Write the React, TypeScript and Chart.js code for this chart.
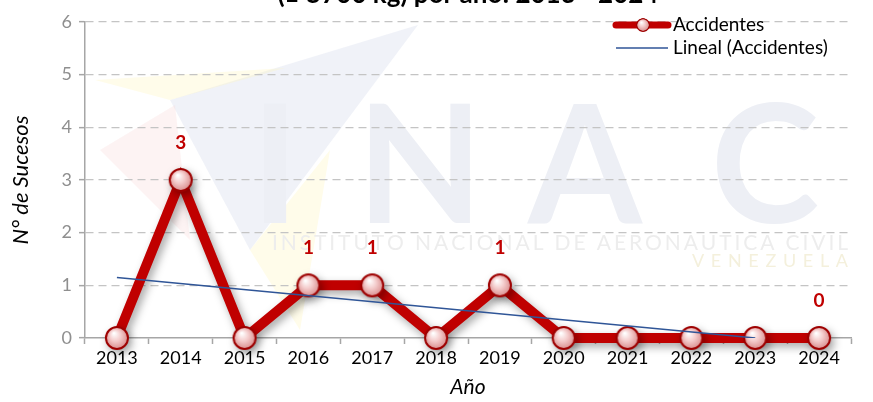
import React, { useEffect, useRef } from 'react';
import { Chart, registerables } from 'chart.js';

Chart.register(...registerables);

// ---- data ----
const years = ['2013', '2014', '2015', '2016', '2017', '2018', '2019', '2020', '2021', '2022', '2023', '2024'];
const accidents = [0, 3, 0, 1, 1, 0, 1, 0, 0, 0, 0, 0];
// linear trend: starts ~1.15 at 2013, reaches 0 near 2023
const trendLine: (number | null)[] = [1.15, null, null, null, null, null, null, null, null, null, 0, null];
const pointLabels = ['', '3', '', '1', '1', '', '1', '', '', '', '', '0'];
const titleText = '(≤ 5700 kg) por año: 2013 - 2024';
const seriesName = 'Accidentes';
const trendName = 'Lineal (Accidentes)';
const yTitle = 'N° de Sucesos';
const xTitle = 'Año';
const yMin = 0;
const yMax = 6;
const yStep = 1;

const FONT = 'Lato, "Open Sans", sans-serif';
const RED = '#c00000';
const BLUE = '#2f5597';
const GRAY = '#a6a6a6';

function makeMarker(r: number): HTMLCanvasElement {
  const pad = 2;
  const size = Math.ceil((r + pad) * 2);
  const c = document.createElement('canvas');
  c.width = size;
  c.height = size;
  const g = c.getContext('2d')!;
  const cx = size / 2;
  const cy = size / 2;
  const grad = g.createRadialGradient(cx - r * 0.25, cy - r * 0.4, r * 0.05, cx, cy, r);
  grad.addColorStop(0, '#ffffff');
  grad.addColorStop(0.45, '#f4cccc');
  grad.addColorStop(0.85, '#de9a9a');
  grad.addColorStop(1, '#c66c6c');
  g.beginPath();
  g.arc(cx, cy, r - 1, 0, Math.PI * 2);
  g.fillStyle = grad;
  g.fill();
  g.lineWidth = 2;
  g.strokeStyle = '#9e0000';
  g.stroke();
  return c;
}

function spacedText(ctx: CanvasRenderingContext2D, text: string, x0: number, x1: number, y: number) {
  const chars = Array.from(text);
  const widths = chars.map((ch) => ctx.measureText(ch).width);
  const total = widths.reduce((a, b) => a + b, 0);
  const gap = chars.length > 1 ? (x1 - x0 - total) / (chars.length - 1) : 0;
  let x = x0;
  ctx.textAlign = 'left';
  chars.forEach((ch, i) => {
    ctx.fillText(ch, x, y);
    x += widths[i] + gap;
  });
}

const watermarkPlugin = {
  id: 'watermark',
  beforeDraw(chart: any) {
    const ctx: CanvasRenderingContext2D = chart.ctx;
    ctx.save();
    // faint logo wing
    ctx.fillStyle = 'rgba(212,218,236,0.35)';
    ctx.beginPath();
    ctx.moveTo(170, 100);
    ctx.lineTo(418, 25);
    ctx.lineTo(250, 250);
    ctx.closePath();
    ctx.fill();
    ctx.fillStyle = 'rgba(255,245,185,0.3)';
    ctx.beginPath();
    ctx.moveTo(95, 80);
    ctx.lineTo(285, 68);
    ctx.lineTo(170, 100);
    ctx.closePath();
    ctx.fill();
    ctx.beginPath();
    ctx.moveTo(250, 250);
    ctx.lineTo(330, 150);
    ctx.lineTo(300, 330);
    ctx.closePath();
    ctx.fill();
    ctx.fillStyle = 'rgba(250,215,215,0.3)';
    ctx.beginPath();
    ctx.moveTo(100, 150);
    ctx.lineTo(175, 105);
    ctx.lineTo(190, 240);
    ctx.closePath();
    ctx.fill();
    // INAC letters
    ctx.fillStyle = '#edeff5';
    ctx.font = `bold 164px ${FONT}`;
    ctx.textAlign = 'center';
    ctx.textBaseline = 'alphabetic';
    const letters: [string, number][] = [['I', 275], ['N', 420], ['A', 585], ['C', 765]];
    letters.forEach(([t, x]) => ctx.fillText(t, x, 223));
    ctx.fillStyle = '#ededed';
    ctx.font = `21px ${FONT}`;
    spacedText(ctx, 'INSTITUTO NACIONAL DE AERONAUTICA CIVIL', 272, 848, 250);
    ctx.font = `18px ${FONT}`;
    ctx.fillStyle = '#f4f0dc';
    spacedText(ctx, 'VENEZUELA', 692, 848, 267);
    ctx.restore();
  },
};

const shadowPlugin = {
  id: 'lineShadow',
  beforeDatasetDraw(chart: any, args: any) {
    if (args.index !== 0) return;
    const ctx = chart.ctx;
    ctx.save();
    ctx.shadowColor = 'rgba(0,0,0,0.35)';
    ctx.shadowBlur = 9;
    ctx.shadowOffsetX = 3;
    ctx.shadowOffsetY = 4;
  },
  afterDatasetDraw(chart: any, args: any) {
    if (args.index !== 0) return;
    chart.ctx.restore();
  },
};

const labelPlugin = {
  id: 'pointLabels',
  afterDatasetsDraw(chart: any) {
    const ctx: CanvasRenderingContext2D = chart.ctx;
    const meta = chart.getDatasetMeta(0);
    ctx.save();
    ctx.fillStyle = RED;
    ctx.font = `bold 19px ${FONT}`;
    ctx.textAlign = 'center';
    ctx.textBaseline = 'middle';
    meta.data.forEach((pt: any, i: number) => {
      const lbl = pointLabels[i];
      if (lbl) ctx.fillText(lbl, pt.x, pt.y - 37);
    });
    ctx.restore();
  },
};

const legendTitlePlugin = (marker: HTMLCanvasElement) => ({
  id: 'legendTitle',
  afterDraw(chart: any) {
    const ctx: CanvasRenderingContext2D = chart.ctx;
    ctx.save();
    // title (cut off at the top)
    ctx.fillStyle = '#000';
    ctx.font = `bold 26px ${FONT}`;
    ctx.textAlign = 'center';
    ctx.textBaseline = 'alphabetic';
    ctx.fillText(titleText, 468, 3);
    // legend
    ctx.lineCap = 'round';
    ctx.strokeStyle = RED;
    ctx.lineWidth = 7;
    ctx.beginPath();
    ctx.moveTo(616, 25);
    ctx.lineTo(668, 25);
    ctx.stroke();
    ctx.drawImage(marker, 643 - 8, 25 - 8, 16, 16);
    ctx.lineCap = 'butt';
    ctx.strokeStyle = BLUE;
    ctx.lineWidth = 1.5;
    ctx.beginPath();
    ctx.moveTo(616, 48);
    ctx.lineTo(668, 48);
    ctx.stroke();
    ctx.fillStyle = '#000';
    ctx.font = `19px ${FONT}`;
    ctx.textAlign = 'left';
    ctx.textBaseline = 'middle';
    ctx.fillText(seriesName, 673, 25);
    ctx.fillText(trendName, 673, 48);
    ctx.restore();
  },
});

export default function App() {
  const ref = useRef<HTMLCanvasElement>(null);
  useEffect(() => {
    if (!ref.current) return;
    const marker = makeMarker(12);
    const chart = new Chart(ref.current, {
      type: 'line',
      data: {
        labels: years,
        datasets: [
          {
            label: seriesName,
            data: accidents,
            borderColor: RED,
            backgroundColor: RED,
            borderWidth: 10,
            tension: 0,
            pointStyle: marker as any,
            pointRadius: 12,
            pointHoverRadius: 12,
            order: 1,
            clip: false as any,
          },
          {
            label: trendName,
            data: trendLine,
            borderColor: BLUE,
            borderWidth: 1.5,
            pointRadius: 0,
            spanGaps: true,
            tension: 0,
            order: 0,
          },
        ],
      },
      options: {
        responsive: false,
        animation: false,
        layout: { padding: { left: 0, right: 7, top: 14, bottom: 0 } },
        plugins: {
          legend: { display: false },
          title: { display: false },
          tooltip: { enabled: false },
        },
        scales: {
          x: {
            type: 'category',
            offset: true,
            grid: {
              offset: true,
              drawOnChartArea: false,
              drawTicks: true,
              tickLength: 6,
              tickColor: GRAY,
              tickWidth: 1.5,
            },
            border: { display: true, color: GRAY, width: 1.5 },
            ticks: { color: '#000', font: { family: FONT, size: 18 }, padding: 3, maxRotation: 0 },
            title: {
              display: true,
              text: xTitle,
              color: '#000',
              font: { family: FONT, size: 21, style: 'italic' },
              padding: { top: 0, bottom: 2 },
            },
            afterFit(scale: any) {
              scale.height = 64;
            },
          },
          y: {
            min: yMin,
            max: yMax,
            ticks: {
              stepSize: yStep,
              color: '#8f8f8f',
              font: { family: FONT, size: 18 },
              padding: 7,
            },
            grid: {
              color: (c: any) => (c.tick && c.tick.value === 0 ? 'rgba(0,0,0,0)' : '#c4c4c4'),
              lineWidth: 1.3,
              drawTicks: true,
              tickLength: 6,
              tickColor: GRAY,
              tickWidth: 1.5,
              tickBorderDash: [],
            },
            border: { display: true, color: GRAY, width: 1.5, dash: [8, 5] },
            title: {
              display: true,
              text: yTitle,
              color: '#000',
              font: { family: FONT, size: 22, style: 'italic' },
              padding: { top: 8, bottom: 0 },
            },
            afterFit(scale: any) {
              scale.width = 85;
            },
          },
        },
      } as any,
      plugins: [watermarkPlugin, shadowPlugin, labelPlugin, legendTitlePlugin(marker)],
    });
    return () => chart.destroy();
  }, []);
  return (
    <div style={{ position: 'absolute', left: 0, top: 0, width: 873, height: 402, background: '#fff' }}>
      <canvas ref={ref} width={873} height={402} style={{ width: 873, height: 402, display: 'block' }} />
    </div>
  );
}
